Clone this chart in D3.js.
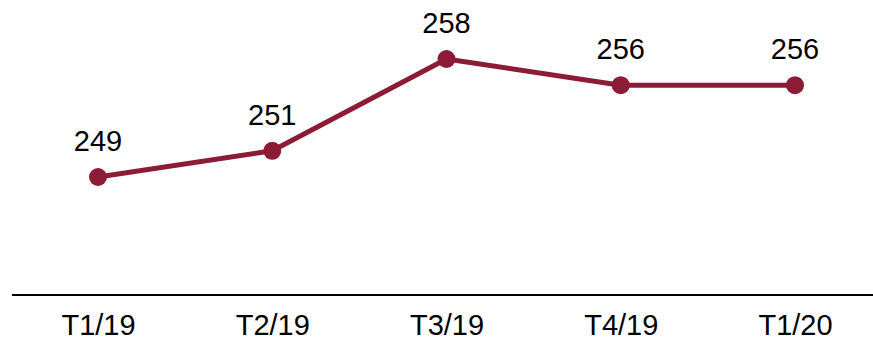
<!DOCTYPE html>
<html>
<head>
<meta charset="utf-8">
<script src="https://cdn.jsdelivr.net/npm/d3@7"></script>
<style>
  html, body { margin: 0; padding: 0; background: #fff; }
  svg { display: block; }
  text { font-family: "Liberation Sans", Arial, sans-serif; fill: #000; }
</style>
</head>
<body>
<div id="chart"></div>
<script>
// Quarterly values
const quarters = ["T1/19", "T2/19", "T3/19", "T4/19", "T1/20"];
const values = [249, 251, 258, 256, 256];

const width = 873, height = 341;
const lineColor = "#8C1B36";

const svg = d3.select("#chart").append("svg")
  .attr("width", width)
  .attr("height", height);

const x = d3.scalePoint().domain(quarters).range([98, 795]);
const y = d3.scaleLinear().domain([240, 262.5]).range([295, 0]);

// Baseline axis with category labels
const axis = d3.axisBottom(x).tickSize(0).tickPadding(0);
const gAxis = svg.append("g").attr("transform", "translate(0,295)").call(axis);
gAxis.select(".domain").remove();
gAxis.append("line")
  .attr("x1", 12).attr("x2", width)
  .attr("y1", 0).attr("y2", 0)
  .attr("stroke", "#000").attr("stroke-width", 2);
gAxis.selectAll(".tick text")
  .attr("dy", null)
  .attr("y", 40)
  .style("font-size", "29px")
  .style("font-family", "'Liberation Sans', Arial, sans-serif")
  .attr("fill", "#000");

const data = quarters.map((q, i) => ({ q, v: values[i] }));

// Series line
svg.append("path")
  .datum(data)
  .attr("fill", "none")
  .attr("stroke", lineColor)
  .attr("stroke-width", 5)
  .attr("stroke-linejoin", "round")
  .attr("d", d3.line().x(d => x(d.q)).y(d => y(d.v)));

// Markers
svg.selectAll("circle.pt")
  .data(data)
  .join("circle")
  .attr("class", "pt")
  .attr("cx", d => x(d.q))
  .attr("cy", d => y(d.v))
  .attr("r", 9)
  .attr("fill", lineColor);

// Value labels
svg.selectAll("text.val")
  .data(data)
  .join("text")
  .attr("class", "val")
  .attr("x", d => x(d.q))
  .attr("y", d => y(d.v) - 26)
  .attr("text-anchor", "middle")
  .style("font-size", "29px")
  .text(d => d.v);
</script>
</body>
</html>
